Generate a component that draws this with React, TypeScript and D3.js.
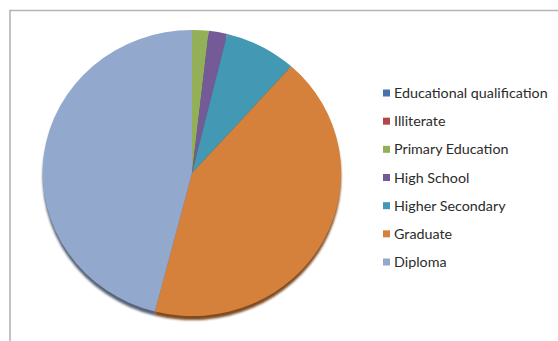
import React from "react";
import * as d3 from "d3";

const categories = [
  "Educational qualification",
  "Illiterate",
  "Primary Education",
  "High School",
  "Higher Secondary",
  "Graduate",
  "Diploma",
];
const values = [0, 0, 1.8, 2.0, 7.8, 42.4, 46.0];
const colors = ["#4a72ab", "#b2474a", "#93b059", "#745a96", "#4399b3", "#d5803b", "#93a8cd"];

const W = 558;
const H = 341;

export default function App() {
  const cx = 192;
  const cy = 173;
  const rx = 149;
  const ry = 143;
  const pie = d3.pie<number>().sort(null).value((d) => d);
  const arcs = pie(values);
  const arc = d3.arc<d3.PieArcDatum<number>>().innerRadius(0).outerRadius(1);
  const legendY = d3.scalePoint<string>().domain(categories).range([93, 262]);

  return (
    <svg
      width={W}
      height={H}
      style={{ position: "absolute", left: 0, top: 0, background: "#fff" }}
      fontFamily="Lato, 'Open Sans', sans-serif"
    >
      <defs>
        <filter id="blur" x="-10%" y="-10%" width="120%" height="120%">
          <feGaussianBlur stdDeviation="0.8" />
        </filter>
      </defs>
      <rect x={0} y={0} width={W} height={H} fill="#fff" />
      <path d={`M10,${H + 5} L10,10.5 L${W + 5},10.5`} fill="none" stroke="#b4b4b4" strokeWidth={1.6} />
      {/* shadow / depth */}
      <g filter="url(#blur)">
        <g transform={`translate(${cx},${cy + 4}) scale(${rx},${ry})`}>
          {arcs.map((a, i) =>
            a.value > 0 ? (
              <path key={i} d={arc(a) || ""} fill={d3.color(colors[i])!.darker(1.5).toString()} />
            ) : null
          )}
        </g>
      </g>
      <g transform={`translate(${cx},${cy}) scale(${rx},${ry})`}>
        {arcs.map((a, i) =>
          a.value > 0 ? <path key={i} d={arc(a) || ""} fill={colors[i]} /> : null
        )}
      </g>
      <g>
        {categories.map((c, i) => (
          <g key={c} transform={`translate(383,${legendY(c)})`}>
            <rect x={0} y={-3.5} width={7} height={7} fill={colors[i]} />
            <text x={11} y={0} dy="0.35em" fontSize={14.3} fill="#2b2b2b">
              {c}
            </text>
          </g>
        ))}
      </g>
    </svg>
  );
}
